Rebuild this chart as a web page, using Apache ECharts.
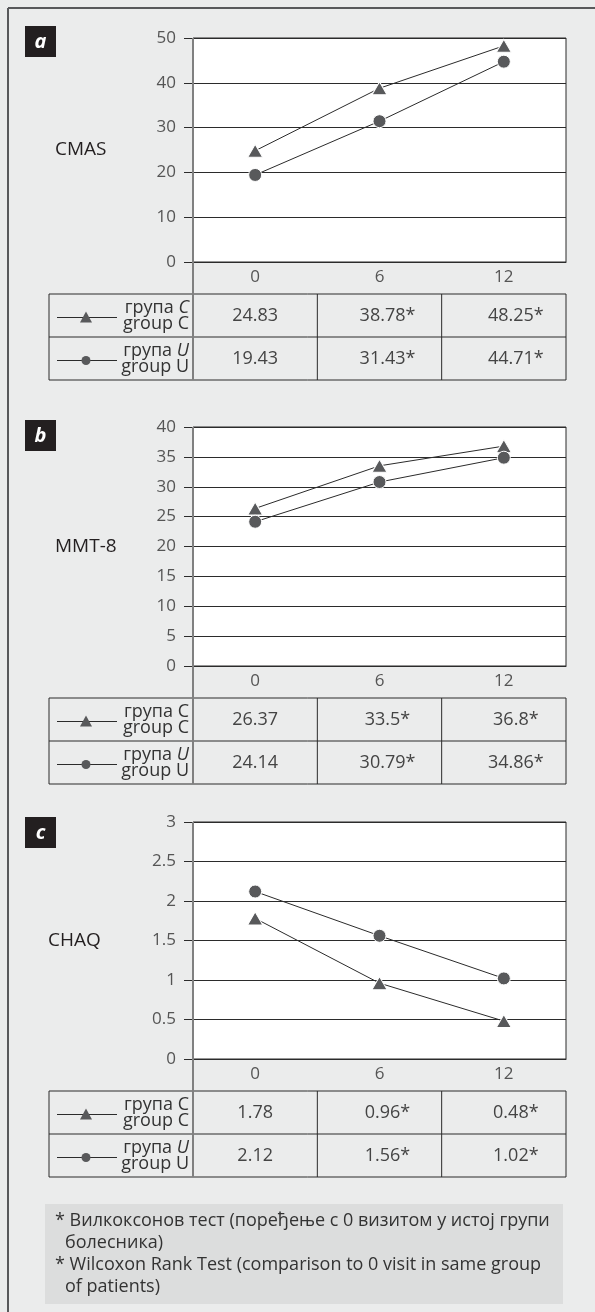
<!DOCTYPE html>
<html>
<head>
<meta charset="utf-8">
<script src="https://cdn.jsdelivr.net/npm/echarts@6/dist/echarts.min.js"></script>
<style>
  html, body { margin: 0; padding: 0; background: #ebecec; }
  #chart { width: 595px; height: 1312px; }
</style>
</head>
<body>
<div id="chart"></div>
<script>
// visits (months)
var visits = ['0', '6', '12'];
var marks = ['', '*', '*'];   // Wilcoxon vs visit 0

var cmasC = [24.83, 38.78, 48.25];
var cmasU = [19.43, 31.43, 44.71];
var mmtC = [26.37, 33.5, 36.8];
var mmtU = [24.14, 30.79, 34.86];
var chaqC = [1.78, 0.96, 0.48];
var chaqU = [2.12, 1.56, 1.02];

// y axis ranges: [min, max, step]
var cmasAxis = [0, 50, 10];
var mmtAxis = [0, 40, 5];
var chaqAxis = [0, 3, 0.5];

var panelNames = ['CMAS', 'MMT-8', 'CHAQ'];
var panelLetters = ['a', 'b', 'c'];

var FONT = '"Open Sans", "Noto Sans", sans-serif';
var DARK = '#2b2b2b';
var MARK = '#58595b';

// layout
var plotL = 193, plotW = 373;
var tops = [38, 427, 822];
var heights = [224, 239, 237];
var badgeTops = [26, 420, 817];
var nameX = [55, 55, 48];
var labelRow = 32, rowH = 43, tableL = 49;
var colW = plotW / 3;
var valShift = [0, 8, 12];

var panels = [
  { name: panelNames[0], c: cmasC, u: cmasU, ax: cmasAxis, italicC: true },
  { name: panelNames[1], c: mmtC, u: mmtU, ax: mmtAxis, italicC: false },
  { name: panelNames[2], c: chaqC, u: chaqU, ax: chaqAxis, italicC: false }
];

var grid = [], xAxis = [], yAxis = [], series = [], graphic = [];

panels.forEach(function (p, i) {
  grid.push({
    left: plotL, width: plotW, top: tops[i], height: heights[i],
    show: true, backgroundColor: '#fff', borderColor: DARK, borderWidth: 1
  });
  xAxis.push({
    type: 'category', gridIndex: i, data: visits, boundaryGap: true,
    axisLine: { lineStyle: { color: DARK, width: 1 } },
    axisTick: { length: labelRow, lineStyle: { color: DARK } },
    axisLabel: { margin: 7, fontSize: 17, color: '#555', fontFamily: FONT }
  });
  yAxis.push({
    type: 'value', gridIndex: i, min: p.ax[0], max: p.ax[1], interval: p.ax[2],
    axisLine: { show: false },
    axisTick: { show: true, length: 9, lineStyle: { color: DARK } },
    axisLabel: { margin: 17, fontSize: 17, color: '#555', fontFamily: FONT },
    splitLine: { lineStyle: { color: DARK, width: 1 } }
  });
  series.push({
    name: 'C' + i, type: 'line', xAxisIndex: i, yAxisIndex: i, data: p.c,
    symbol: 'triangle', symbolSize: [15, 13],
    itemStyle: { color: MARK, borderColor: '#fff', borderWidth: 1 },
    lineStyle: { color: DARK, width: 1 }, z: 3
  });
  series.push({
    name: 'U' + i, type: 'line', xAxisIndex: i, yAxisIndex: i, data: p.u,
    symbol: 'circle', symbolSize: 13,
    itemStyle: { color: MARK, borderColor: '#fff', borderWidth: 1 },
    lineStyle: { color: DARK, width: 1 }, z: 3
  });

  var zeroY = tops[i] + heights[i];
  var tTop = zeroY + labelRow;
  var tBot = tTop + 2 * rowH;

  // badge
  graphic.push({
    type: 'rect', shape: { x: 25, y: badgeTops[i], width: 31, height: 31 },
    style: { fill: '#231f20' }
  });
  graphic.push({
    type: 'text', x: 40.5, y: badgeTops[i] + 16,
    style: { text: panelLetters[i], fill: '#fff', font: 'italic bold 20px ' + FONT, align: 'center', verticalAlign: 'middle' }
  });
  // measure name
  graphic.push({
    type: 'text', x: nameX[i], y: tops[i] + heights[i] / 2,
    style: { text: p.name, fill: '#231f20', font: '19px ' + FONT, verticalAlign: 'middle' }
  });

  // table lines
  [tTop, tTop + rowH, tBot].forEach(function (y) {
    graphic.push({ type: 'line', shape: { x1: tableL, y1: y, x2: plotL + plotW, y2: y }, style: { stroke: DARK, lineWidth: 1 }, z: 5 });
  });
  [tableL, plotL + colW, plotL + 2 * colW, plotL + plotW].forEach(function (x) {
    graphic.push({ type: 'line', shape: { x1: x, y1: tTop, x2: x, y2: tBot }, style: { stroke: DARK, lineWidth: 1 }, z: 5 });
  });
  // grey y-axis line running down through the table
  graphic.push({ type: 'line', shape: { x1: plotL, y1: tops[i], x2: plotL, y2: tBot }, style: { stroke: '#808080', lineWidth: 2 }, z: 6 });

  // table values
  [p.c, p.u].forEach(function (vals, r) {
    var cy = tTop + r * rowH + rowH / 2;
    vals.forEach(function (v, k) {
      graphic.push({
        type: 'text', x: plotL + (k + 0.5) * colW + valShift[k], y: cy,
        style: { text: String(v) + marks[k], fill: '#444', font: '18px ' + FONT, align: 'center', verticalAlign: 'middle' },
        z: 6
      });
    });
    // legend swatch
    graphic.push({ type: 'line', shape: { x1: 57, y1: cy + 2, x2: 117, y2: cy + 2 }, style: { stroke: DARK, lineWidth: 1 }, z: 6 });
    if (r === 0) {
      graphic.push({ type: 'polygon', shape: { points: [[86, cy - 4], [80, cy + 7], [92, cy + 7]] }, style: { fill: MARK }, z: 7 });
    } else {
      graphic.push({ type: 'circle', shape: { cx: 86, cy: cy + 2, r: 4.5 }, style: { fill: MARK }, z: 7 });
    }
    var letter = r === 0 ? 'C' : 'U';
    var italic = r === 0 ? p.italicC : true;
    graphic.push({
      type: 'text', x: 189, y: cy,
      style: {
        text: '{n|група }{' + (italic ? 'i' : 'n') + '|' + letter + '}\n{n|group ' + letter + '}',
        align: 'right', verticalAlign: 'middle', fill: '#333',
        rich: {
          n: { fontSize: 18, fontFamily: FONT, lineHeight: 16, fill: '#333' },
          i: { fontSize: 18, fontFamily: FONT, fontStyle: 'italic', lineHeight: 16, fill: '#333' }
        }
      },
      z: 6
    });
  });
});

// outer frame
graphic.push({ type: 'line', shape: { x1: 8, y1: 8, x2: 595, y2: 8 }, style: { stroke: '#58595b', lineWidth: 2 } });
graphic.push({ type: 'line', shape: { x1: 8, y1: 8, x2: 8, y2: 1312 }, style: { stroke: '#58595b', lineWidth: 2 } });

// footnote box
graphic.push({ type: 'rect', shape: { x: 45, y: 1204, width: 518, height: 100 }, style: { fill: '#dcdddd' } });
var notes = [
  ['* Вилкоксонов тест (поређење с 0 визитом у истој групи', 55, 1221],
  ['болесника)', 65, 1243],
  ['* Wilcoxon Rank Test (comparison to 0 visit in same group', 55, 1265],
  ['of patients)', 65, 1287]
];
notes.forEach(function (n) {
  graphic.push({
    type: 'text', x: n[1], y: n[2],
    style: { text: n[0], fill: '#333', font: '18px ' + FONT, verticalAlign: 'middle' }
  });
});

var myChart = echarts.init(document.getElementById('chart'));
var option = {
  backgroundColor: '#ebecec',
  animation: false,
  grid: grid,
  xAxis: xAxis,
  yAxis: yAxis,
  series: series,
  graphic: graphic
};
myChart.setOption(option);
</script>
</body>
</html>
